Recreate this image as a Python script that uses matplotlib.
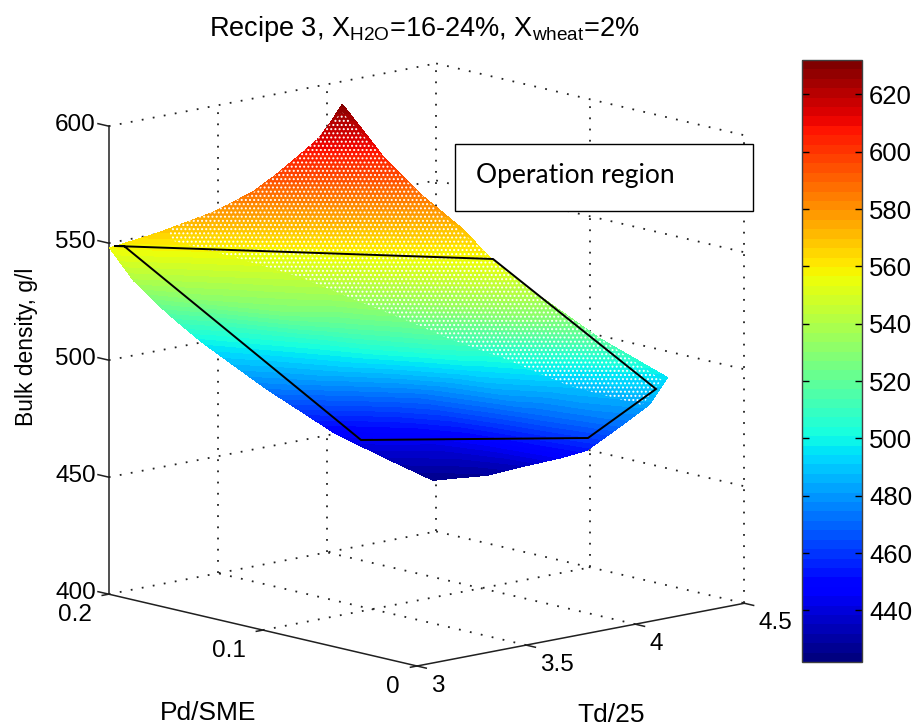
"""
Bulk density response surface, recipe 3, with the operation region on top.
"""

import numpy as np
import matplotlib
matplotlib.use("Agg")
import matplotlib.pyplot as plt
from matplotlib.cm import ScalarMappable
from matplotlib.colors import Normalize
from matplotlib.patches import Polygon, Rectangle
from mpl_toolkits.mplot3d import proj3d

plt.rcParams['font.family'] = ['Liberation Sans', 'DejaVu Sans']
plt.rcParams['mathtext.fontset'] = 'custom'
plt.rcParams['mathtext.rm'] = 'Liberation Sans'
plt.rcParams['hatch.linewidth'] = 0.9

# surface nodes
td_grid = np.array([
    [2.774, 2.829, 2.892, 2.961, 2.990, 3.010, 3.049, 3.058, 3.067],
    [2.934, 2.975, 3.027, 3.063, 3.083, 3.102, 3.133, 3.143, 3.149],
    [3.222, 3.123, 3.162, 3.194, 3.209, 3.217, 3.235, 3.238, 3.236],
    [3.461, 3.419, 3.283, 3.314, 3.339, 3.356, 3.376, 3.384, 3.381],
    [3.588, 3.605, 3.575, 3.503, 3.455, 3.477, 3.508, 3.529, 3.537],
    [3.739, 3.763, 3.768, 3.728, 3.677, 3.626, 3.598, 3.623, 3.631],
    [4.124, 4.125, 4.128, 4.098, 4.012, 3.952, 3.845, 3.751, 3.750],
    [4.269, 4.321, 4.399, 4.361, 4.275, 4.213, 4.162, 4.139, 4.014],
    [4.412, 4.459, 4.526, 4.547, 4.467, 4.414, 4.298, 4.312, 4.344],
])
pd_grid = np.array([
    [0.1674, 0.1440, 0.1167, 0.1006, 0.0905, 0.0836, 0.0716, 0.0646, 0.0580],
    [0.1744, 0.1518, 0.1250, 0.1051, 0.0926, 0.0851, 0.0717, 0.0637, 0.0567],
    [0.1932, 0.1541, 0.1284, 0.1095, 0.0959, 0.0868, 0.0724, 0.0631, 0.0554],
    [0.2057, 0.1765, 0.1275, 0.1088, 0.0949, 0.0858, 0.0709, 0.0606, 0.0520],
    [0.2024, 0.1831, 0.1500, 0.1164, 0.0899, 0.0799, 0.0651, 0.0545, 0.0463],
    [0.2017, 0.1860, 0.1602, 0.1322, 0.1042, 0.0833, 0.0602, 0.0491, 0.0407],
    [0.2134, 0.1989, 0.1765, 0.1526, 0.1202, 0.0990, 0.0663, 0.0391, 0.0311],
    [0.2035, 0.1969, 0.1854, 0.1592, 0.1238, 0.0997, 0.0728, 0.0527, 0.0251],
    [0.1895, 0.1832, 0.1707, 0.1522, 0.1150, 0.0901, 0.0523, 0.0348, 0.0278],
])
density_grid = np.array([
    [557, 566, 578, 588, 596, 602, 613, 621, 630],
    [539, 548, 560, 571, 580, 587, 599, 608, 618],
    [517, 531, 543, 554, 563, 570, 583, 594, 605],
    [499, 510, 527, 537, 546, 552, 565, 576, 587],
    [487, 494, 506, 518, 530, 536, 548, 559, 570],
    [474, 479, 488, 499, 510, 519, 534, 545, 556],
    [447, 453, 462, 472, 485, 494, 513, 530, 542],
    [436, 438, 441, 450, 462, 471, 487, 501, 518],
    [425, 426, 428, 434, 445, 453, 471, 483, 495],
])

td_ticks = [3, 3.5, 4, 4.5]
pd_ticks = [0, 0.1, 0.2]
density_ticks = [400, 450, 500, 550, 600]
cbar_ticks = list(range(440, 621, 20))
cbar_limits = (422, 632)

# the hand drawn outline and the speckled part of the surface, in image pixels
region_x = [115, 493, 656, 588, 361, 124, 115]
region_y = [246, 259, 389, 438, 440, 246, 246]
speckle_x = [170, 250, 295, 342, 390, 450, 530, 610, 662, 642, 592, 567, 503, 447, 413, 363, 300, 237, 170]
speckle_y = [226, 195, 160, 112, 165, 222, 290, 345, 380, 405, 392, 385, 358, 338, 323, 303, 277, 258, 240]

W, H = 916, 728
fig = plt.figure(figsize=(W / 100, H / 100), dpi=100)

ax = fig.add_axes([0, 0, 1, 1], projection='3d', proj_type='ortho')
ax.set_axis_off()
ax.view_init(elev=12.2, azim=-132.2)
ax.set_xlim(3, 4.5, view_margin=0)
ax.set_ylim(0, 0.2, view_margin=0)
ax.set_zlim(400, 600, view_margin=0)
box = (443, 460, 480)


def project(td, pd, z):
    """3D data to image pixels, y going down."""
    td, pd, z = np.broadcast_arrays(np.asarray(td, float), np.asarray(pd, float), np.asarray(z, float))
    xp, yp, _ = proj3d.proj_transform(td.ravel(), pd.ravel(), z.ravel(), ax.get_proj())
    disp = ax.transData.transform(np.column_stack([xp, yp]))
    return disp[:, 0].reshape(td.shape), H - disp[:, 1].reshape(td.shape)


# fit the box to the size and place of the reference
ax.set_box_aspect(box, zoom=1)
fig.canvas.draw()
_, y0 = project(3, 0, 400)
_, y1 = project(3, 0, 600)
ax.set_box_aspect(box, zoom=468 / float(y0 - y1))
fig.canvas.draw()
x0, y0 = project(3, 0, 400)
ax.set_position([(417 - float(x0)) / W, (float(y0) - 666) / H, 1, 1])
fig.canvas.draw()

grid = dict(color='#222222', lw=1.3, ls=(0, (1, 5.2)), clip_on=False)
solid = dict(color='#202020', lw=1.1, clip_on=False)

for z in density_ticks:
    ax.plot([3, 4.5], [0.2, 0.2], [z, z], **grid)
    ax.plot([4.5, 4.5], [0.2, 0], [z, z], **grid)
for t in td_ticks[1:]:
    ax.plot([t, t], [0.2, 0.2], [400, 600], **grid)
for p in pd_ticks[:-1]:
    ax.plot([4.5, 4.5], [p, p], [400, 600], **grid)
for t in td_ticks[1:3]:
    ax.plot([t, t], [0, 0.2], [400, 400], **grid)
ax.plot([3, 4.5], [0.1, 0.1], [400, 400], **grid)

# visible axes and their ticks
ax.plot([3, 3], [0.2, 0.2], [400, 600], **solid)
ax.plot([3, 4.5], [0, 0], [400, 400], **solid)
ax.plot([3, 3], [0, 0.2], [400, 400], **solid)
for z in density_ticks:
    ax.plot([3, 3], [0.2, 0.207], [z, z], **solid)
for p in pd_ticks:
    ax.plot([3, 2.97], [p, p], [400, 400], **solid)
for t in td_ticks:
    ax.plot([t, t], [0, -0.006], [400, 400], **solid)

# everything flat goes on an overlay counted in image pixels
over = fig.add_axes([0, 0, 1, 1], zorder=5)
over.set_xlim(0, W)
over.set_ylim(H, 0)
over.set_axis_off()

surf_x, surf_y = project(td_grid, pd_grid, density_grid)
jet64 = plt.get_cmap('jet', 64)
norm = Normalize(*cbar_limits)
over.contourf(surf_x, surf_y, density_grid, levels=np.linspace(*cbar_limits, 65), cmap=jet64, norm=norm)

over.add_patch(Polygon(np.column_stack([speckle_x, speckle_y]), closed=True, facecolor='none',
                       edgecolor='white', hatch='....', lw=0))

over.plot(region_x, region_y, color='black', lw=1.4, solid_joinstyle='miter')
over.add_patch(Rectangle((455, 144), 298, 67, facecolor='white', edgecolor='black', lw=1))
over.text(476, 175, 'Operation region', family='Lato', fontsize=19, va='center', ha='left')

tick_size = 17.5
for z in density_ticks:
    px, py = project(3, 0.2, z)
    over.text(px - 13, py - 1, str(z), fontsize=tick_size, ha='right', va='center')
for p in pd_ticks:
    px, py = project(3, p, 400)
    over.text(px - 17, py + 21, f'{p:g}', fontsize=tick_size, ha='right', va='center')
for t in td_ticks:
    px, py = project(t, 0, 400)
    over.text(px + 14, py + 20, f'{t:g}', fontsize=tick_size, ha='left', va='center')

over.text(27, 347, 'Bulk density, g/l', fontsize=16.5, rotation=90, ha='center', va='center')
over.text(208, 713, 'Pd/SME', fontsize=19, ha='center', va='center')
over.text(611, 715, 'Td/25', fontsize=19, ha='center', va='center')
over.text(424, 29, r'Recipe 3, X$_{\mathrm{H2O}}$=16-24%, X$_{\mathrm{wheat}}$=2%',
          fontsize=19.5, ha='center', va='center')

# colorbar
cax = fig.add_axes([802 / W, 1 - 662 / H, 60 / W, 602 / H], zorder=6)
cb = fig.colorbar(ScalarMappable(norm=norm, cmap=jet64), cax=cax, ticks=cbar_ticks)
cb.outline.set_edgecolor('#404040')
cb.outline.set_linewidth(1)
cax.tick_params(direction='in', length=5, width=1, left=True, right=True, labelsize=18.5, pad=5)

fig.savefig('out.png', dpi=100)
